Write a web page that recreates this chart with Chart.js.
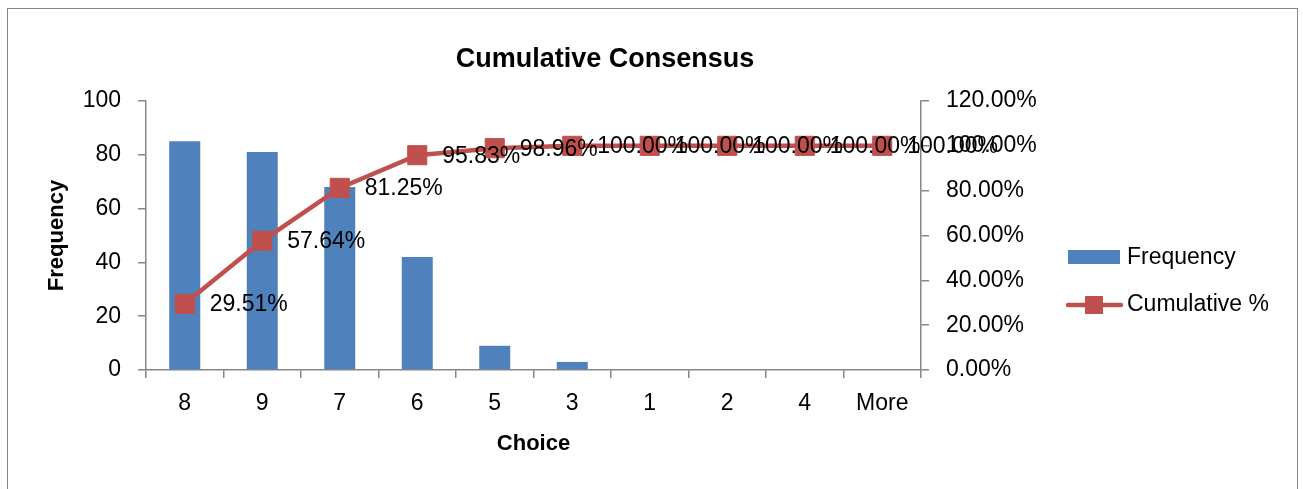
<!DOCTYPE html>
<html>
<head>
<meta charset="utf-8">
<script src="https://cdn.jsdelivr.net/npm/chart.js@4/dist/chart.umd.min.js"></script>
<style>
  html, body { margin: 0; padding: 0; background: #fff; overflow: hidden; }
  #wrap { position: relative; width: 1303px; height: 489px; }
  #frame { position: absolute; left: 7px; top: 8px; width: 1289px; height: 600px; border: 1px solid #868686; }
  #chart { position: absolute; left: 0; top: 0; }
</style>
</head>
<body>
<div id="wrap">
  <div id="frame"></div>
  <canvas id="chart" width="1303" height="489"></canvas>
</div>
<script>
"use strict";

const choices = ['8', '9', '7', '6', '5', '3', '1', '2', '4', 'More'];
const frequency = [85, 81, 68, 42, 9, 3, 0, 0, 0, 0];
const cumulative = [29.51, 57.64, 81.25, 95.83, 98.96, 100, 100, 100, 100, 100];
const freqTicks = [0, 20, 40, 60, 80, 100];
const pctTicks = [0, 20, 40, 60, 80, 100, 120];

const FONT = "'Liberation Sans', Arial, sans-serif";
const BLUE = '#4F81BD';
const RED = '#C0504D';
const AXIS = '#868686';

Chart.defaults.color = '#000';
Chart.defaults.font.family = FONT;

const titlePlugin = {
  id: 'topTitle',
  afterDraw(chart) {
    const ctx = chart.ctx;
    ctx.save();
    ctx.font = 'bold 27px ' + FONT;
    ctx.fillStyle = '#000';
    ctx.textAlign = 'center';
    ctx.textBaseline = 'middle';
    ctx.fillText('Cumulative Consensus', 605, 60);
    ctx.restore();
  }
};

const pointLabels = {
  id: 'pointLabels',
  afterDatasetsDraw(chart) {
    const ctx = chart.ctx;
    const meta = chart.getDatasetMeta(1);
    ctx.save();
    ctx.font = '23px ' + FONT;
    ctx.fillStyle = '#000';
    ctx.textAlign = 'left';
    ctx.textBaseline = 'middle';
    meta.data.forEach((pt, i) => {
      ctx.fillText(cumulative[i].toFixed(2) + '%', pt.x + 25, pt.y + 1);
    });
    ctx.restore();
  }
};

const sideLegend = {
  id: 'sideLegend',
  afterDraw(chart) {
    const ctx = chart.ctx;
    const ds = chart.data.datasets;
    ctx.save();
    ctx.font = '23px ' + FONT;
    ctx.textBaseline = 'middle';
    // bar entry
    ctx.fillStyle = ds[0].backgroundColor;
    ctx.fillRect(1068, 250, 52, 14);
    ctx.fillStyle = '#000';
    ctx.fillText(ds[0].label, 1127, 258);
    // line entry
    ctx.strokeStyle = ds[1].borderColor;
    ctx.lineWidth = 4.5;
    ctx.lineCap = 'round';
    ctx.beginPath();
    ctx.moveTo(1068, 305);
    ctx.lineTo(1121, 305);
    ctx.stroke();
    ctx.fillStyle = ds[1].pointBackgroundColor;
    ctx.fillRect(1085, 296, 18, 18);
    ctx.fillStyle = '#000';
    ctx.fillText(ds[1].label, 1127, 305);
    ctx.restore();
  }
};

new Chart(document.getElementById('chart'), {
  data: {
    labels: choices,
    datasets: [
      {
        type: 'bar',
        label: 'Frequency',
        data: frequency,
        yAxisID: 'y',
        backgroundColor: BLUE,
        categoryPercentage: 1,
        barPercentage: 0.4,
        order: 1
      },
      {
        type: 'line',
        label: 'Cumulative %',
        data: cumulative,
        yAxisID: 'yPct',
        borderColor: RED,
        borderWidth: 4.5,
        pointStyle: 'rect',
        pointRadius: 13.5,
        pointBackgroundColor: RED,
        pointBorderColor: RED,
        pointBorderWidth: 1,
        tension: 0,
        order: 0
      }
    ]
  },
  options: {
    responsive: false,
    animation: false,
    layout: { padding: { top: 101, left: 0, right: 0, bottom: 0 } },
    plugins: {
      legend: { display: false },
      title: { display: false },
      tooltip: { enabled: false }
    },
    scales: {
      x: {
        offset: true,
        grid: { offset: true, drawOnChartArea: false, tickLength: 8, color: AXIS, lineWidth: 1.5 },
        border: { color: AXIS, width: 1.5 },
        ticks: { font: { size: 23 }, padding: 12, maxRotation: 0, autoSkip: false },
        title: { display: true, text: 'Choice', font: { size: 22, weight: 'bold' }, padding: { top: 0, bottom: 32 } },
        afterFit(s) { s.height = 119; }
      },
      y: {
        position: 'left',
        min: 0, max: 100,
        afterBuildTicks(s) { s.ticks = freqTicks.map(v => ({ value: v })); },
        grid: { drawOnChartArea: false, tickLength: 8, color: AXIS, lineWidth: 1.5 },
        border: { color: AXIS, width: 1.5 },
        ticks: { font: { size: 23 }, padding: 17 },
        title: { display: true, text: 'Frequency', font: { size: 22, weight: 'bold' }, padding: { top: 44, bottom: 0 } },
        afterFit(s) { s.width = 146; }
      },
      yPct: {
        position: 'right',
        min: 0, max: 120,
        afterBuildTicks(s) { s.ticks = pctTicks.map(v => ({ value: v })); },
        grid: { drawOnChartArea: false, tickLength: 8, color: AXIS, lineWidth: 1.5 },
        border: { color: AXIS, width: 1.5 },
        ticks: { font: { size: 23 }, padding: 17, callback: v => v.toFixed(2) + '%' },
        afterFit(s) { s.width = 382; }
      }
    }
  },
  plugins: [titlePlugin, pointLabels, sideLegend]
});
</script>
</body>
</html>
